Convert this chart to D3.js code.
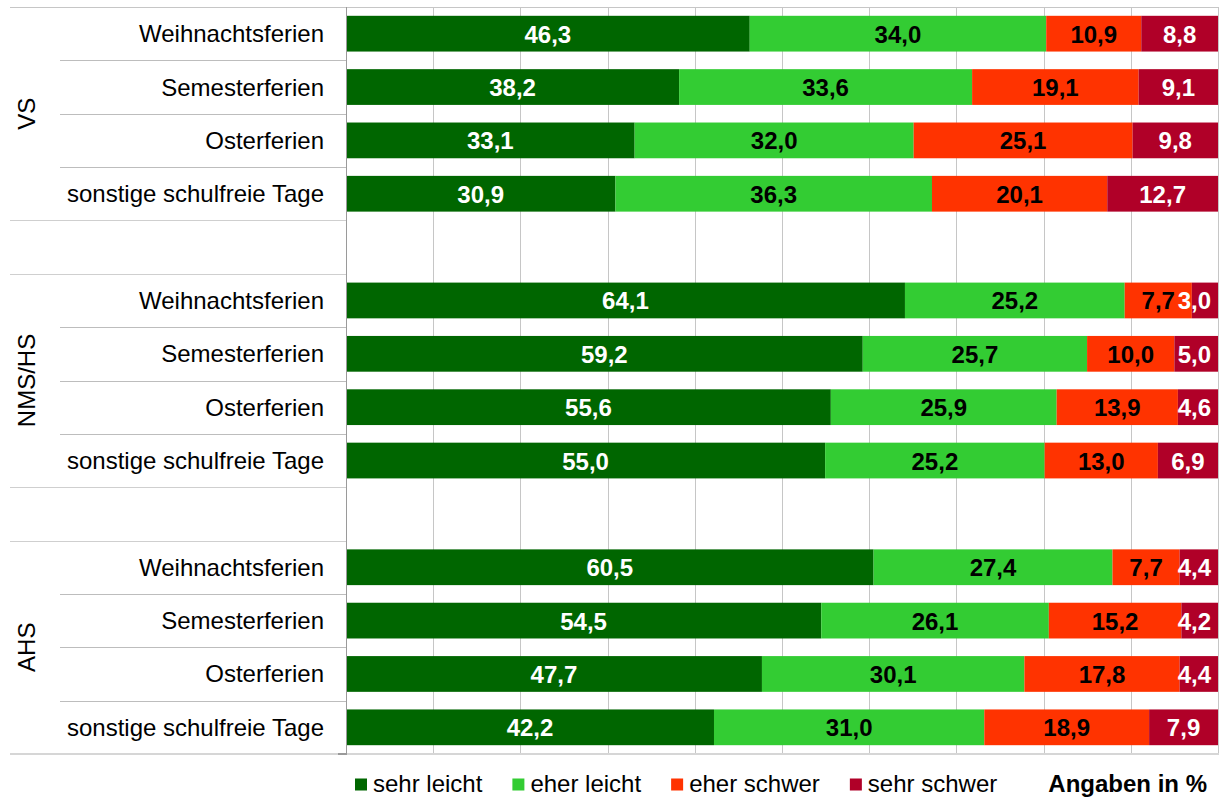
<!DOCTYPE html>
<html><head><meta charset="utf-8">
<script src="https://cdn.jsdelivr.net/npm/d3@7"></script>
<style>
body{margin:0;background:#fff}
text{font-family:"Liberation Sans",Arial,Helvetica,sans-serif}
</style>
</head><body>
<svg id="chart" width="1223" height="798"></svg>
<script>
// ---- data ----
const groups = ["VS", "NMS/HS", "AHS"];
const categories = ["Weihnachtsferien", "Semesterferien", "Osterferien", "sonstige schulfreie Tage"];
const seriesNames = ["sehr leicht", "eher leicht", "eher schwer", "sehr schwer"];
// order: VS (4), NMS/HS (4), AHS (4)
const sehrLeicht = [46.3, 38.2, 33.1, 30.9, 64.1, 59.2, 55.6, 55.0, 60.5, 54.5, 47.7, 42.2];
const eherLeicht = [34.0, 33.6, 32.0, 36.3, 25.2, 25.7, 25.9, 25.2, 27.4, 26.1, 30.1, 31.0];
const eherSchwer = [10.9, 19.1, 25.1, 20.1, 7.7, 10.0, 13.9, 13.0, 7.7, 15.2, 17.8, 18.9];
const sehrSchwer = [8.8, 9.1, 9.8, 12.7, 3.0, 5.0, 4.6, 6.9, 4.4, 4.2, 4.4, 7.9];
const unitNote = "Angaben in %";

// ---- styles ----
const colors = ["#006600", "#33CC33", "#FF3300", "#B00028"];
const labelColors = ["#ffffff", "#000000", "#000000", "#ffffff"];

const svg = d3.select("#chart");
const pL = 346, pR = 1218, pT = 7, pB = 754;

// rows (with blank spacer rows between groups)
const rows = [];
groups.forEach((g, gi) => {
  categories.forEach((c, ci) => {
    const i = gi * categories.length + ci;
    rows.push({key: g + "|" + c, group: g, cat: c, gi,
      vals: [sehrLeicht[i], eherLeicht[i], eherSchwer[i], sehrSchwer[i]]});
  });
  if (gi < groups.length - 1) rows.push({key: "blank" + gi, blank: true});
});

const y = d3.scaleBand().domain(rows.map(r => r.key)).range([pT, pB])
  .paddingInner(0.33).paddingOuter(0.165);
const step = y.step();
const x = d3.scaleLinear().domain([0, 1]).range([pL, pR]);

const fmt = d3.formatLocale({decimal: ",", thousands: ".", grouping: [3], currency: ["", "€"]}).format(".1f");

// gridlines
svg.append("g").selectAll("line").data(x.ticks(10)).join("line")
  .attr("x1", d => Math.round(x(d)) + 0.5).attr("x2", d => Math.round(x(d)) + 0.5)
  .attr("y1", pT).attr("y2", pB)
  .attr("stroke", "#c6c6c6").attr("stroke-width", 1);

// top border
svg.append("line").attr("x1", 10).attr("x2", pR + 1).attr("y1", pT + 0.5).attr("y2", pT + 0.5)
  .attr("stroke", "#c6c6c6");

// row separators in label area
const groupEdges = new Set([0, rows.length]);
rows.forEach((r, i) => { if (r.blank) { groupEdges.add(i); groupEdges.add(i + 1); } });
svg.append("g").selectAll("line").data(d3.range(1, rows.length)).join("line")
  .attr("x1", i => groupEdges.has(i) ? 10 : 60)
  .attr("x2", pL)
  .attr("y1", i => Math.round(pT + i * step) + 0.5)
  .attr("y2", i => Math.round(pT + i * step) + 0.5)
  .attr("stroke", i => groupEdges.has(i) ? "#cfcfcf" : "#bdbdbd");

// bottom axis line
svg.append("line").attr("x1", 10).attr("x2", pR + 1).attr("y1", pB).attr("y2", pB)
  .attr("stroke", "#d6d6d6").attr("stroke-width", 2);
svg.append("line").attr("x1", 338).attr("x2", pL).attr("y1", pB).attr("y2", pB)
  .attr("stroke", "#9a9a9a").attr("stroke-width", 2);

// bars
const dataRows = rows.filter(r => !r.blank);
const stackData = dataRows.map(r => {
  const o = {key: r.key};
  seriesNames.forEach((s, k) => o[s] = r.vals[k]);
  return o;
});
const stacked = d3.stack().keys(seriesNames).offset(d3.stackOffsetExpand)(stackData);

const barG = svg.append("g");
stacked.forEach((layer, k) => {
  barG.append("g").attr("fill", colors[k]).selectAll("rect").data(layer).join("rect")
    .attr("x", d => x(d[0]))
    .attr("width", d => x(d[1]) - x(d[0]))
    .attr("y", d => y(d.data.key))
    .attr("height", y.bandwidth());
});

// value labels
const labG = svg.append("g");
stacked.forEach((layer, k) => {
  labG.append("g").selectAll("text").data(layer).join("text")
    .attr("x", d => (x(d[0]) + x(d[1])) / 2)
    .attr("y", d => y(d.data.key) + y.bandwidth() / 2 + 9)
    .attr("text-anchor", "middle")
    .attr("font-size", 24).attr("font-weight", "bold")
    .attr("fill", labelColors[k])
    .text(d => fmt(d.data[layer.key]))
    .each(function(d) {
      const w = this.getComputedTextLength();
      const cx = (x(d[0]) + x(d[1])) / 2;
      const maxRight = pR - 7;
      if (cx + w / 2 > maxRight) d3.select(this).attr("x", maxRight - w / 2);
    });
});

// left axis line
svg.append("line").attr("x1", pL + 0.5).attr("x2", pL + 0.5).attr("y1", pT).attr("y2", pB + 1)
  .attr("stroke", "#9a9a9a");

// category labels
svg.append("g").selectAll("text").data(dataRows).join("text")
  .attr("x", 324)
  .attr("y", d => y(d.key) + y.bandwidth() / 2 + 8.5)
  .attr("text-anchor", "end")
  .attr("font-size", 24).attr("fill", "#000")
  .text(d => d.cat);

// group labels
groups.forEach((g, gi) => {
  const first = rows.findIndex(r => r.group === g);
  const cy = pT + (first + categories.length / 2) * step;
  svg.append("text")
    .attr("transform", `translate(34.5,${cy}) rotate(-90)`)
    .attr("text-anchor", "middle")
    .attr("font-size", 24).attr("fill", "#000")
    .text(g);
});

// legend
let lx = 355;
const legG = svg.append("g");
seriesNames.forEach((s, k) => {
  legG.append("rect").attr("x", lx).attr("y", 778.5).attr("width", 12).attr("height", 12).attr("fill", colors[k]);
  const t = legG.append("text").attr("x", lx + 18).attr("y", 791.5)
    .attr("font-size", 24).attr("fill", "#000").text(s);
  lx = lx + 18 + t.node().getComputedTextLength() + 30;
});
svg.append("text").attr("x", 1207).attr("y", 791.5).attr("text-anchor", "end")
  .attr("font-size", 24).attr("font-weight", "bold").attr("fill", "#000").text(unitNote);
</script>
</body></html>
